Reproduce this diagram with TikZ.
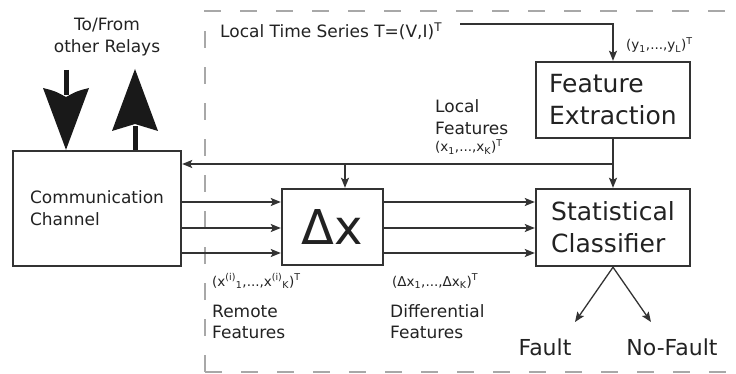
\documentclass[tikz,border=0pt]{standalone}
\usepackage{fontspec}
\setmainfont{DejaVu Sans}
\usetikzlibrary{arrows.meta}
\definecolor{ink}{HTML}{333333}
\definecolor{txt}{HTML}{222222}
\definecolor{dashgray}{HTML}{A8A8A8}
\begin{document}
\begin{tikzpicture}[x=1pt,y=-1pt,
  box/.style={draw=ink, line width=2.4pt, fill=white, inner sep=0pt, align=left, text=txt},
  arr/.style={draw=ink, line width=1.3pt, -{Stealth[length=10pt,width=8pt,inset=2pt]}},
  lbl/.style={inner sep=0pt, text=txt, font=\fontsize{17}{22}\selectfont},
  big/.style={inner sep=0pt, text=txt, font=\fontsize{22}{26}\selectfont},
  sml/.style={inner sep=0pt, text=txt, font=\fontsize{13.5}{16}\selectfont},
  fat/.style={draw=black!90, line width=5pt}
]
\path[use as bounding box] (0,0) rectangle (736,374);
% dashed region
\draw[dashgray, line width=2.5pt, dash pattern=on 17pt off 19pt] (205,372) -- (205,11) -- (736,11);
\draw[dashgray, line width=2.5pt, dash pattern=on 17pt off 19pt] (205,372) -- (736,372);

% boxes
\node[box, minimum width=168pt, minimum height=115pt, font=\fontsize{17}{22}\selectfont] (comm) at (97,208.5) {Communication\\Channel};
\node[box, minimum width=101pt, minimum height=76pt, font=\fontsize{48}{50}\selectfont] (dx) at (332.5,227) {Δx};
\node[box, minimum width=154pt, minimum height=76pt, font=\fontsize{25}{32}\selectfont] (fe) at (613,100) {Feature\\Extraction};
\node[box, minimum width=154pt, minimum height=77pt, font=\fontsize{25}{32}\selectfont] (sc) at (613,227.5) {Statistical\\Classifier};

% connectors
\coordinate (lts) at (460,24);
\draw[arr] (lts) -| (fe.north);
\draw[arr] (fe.south) -- (sc.north);
\coordinate (jr) at (613,164);
\coordinate (jb) at (345,164);
\draw[arr] (jr) -- (jr -| comm.east);
\draw[arr] (jb) -- (jb |- dx.north);
\foreach \y in {202,228,253} {
  \draw[arr] (comm.east |- 0,\y) -- (dx.west |- 0,\y);
  \draw[arr] (dx.east |- 0,\y) -- (sc.west |- 0,\y);
}
\coordinate (fa) at (575,322);
\coordinate (nf) at (651,322);
\draw[arr] (sc.south) -- (fa);
\draw[arr] (sc.south) -- (nf);

% big arrows to/from other relays
\coordinate (dtip) at (66,0 |- comm.north);
\coordinate (ubase) at (135,0 |- comm.north);
\draw[fat] (66,70) -- (66,95);
\fill[black!90] (dtip) -- (43,88) .. controls (55,91) .. (66,97) .. controls (77,91) .. (89,88) -- cycle;
\draw[fat] (ubase) -- (135,126);
\fill[black!90] (135,69) -- (158,131) .. controls (147,128) .. (135,124) .. controls (123,128) .. (112,131) -- cycle;

% labels
\node[lbl, anchor=base] (tf1) at (107,31) {To/From};
\node[lbl, anchor=base] (tf2) at (107,53) {other Relays};
\node[lbl, anchor=base west] (lts-t) at (220,38) {Local Time Series T=(V,I)\textsuperscript{T}};
\node[sml, anchor=base west] (yl) at (626,50) {(y\textsubscript{1},...,y\textsubscript{L})\textsuperscript{T}};
\node[lbl, anchor=base west] (lf1) at (435,113) {Local};
\node[lbl, anchor=base west] (lf2) at (435,135) {Features};
\node[sml, anchor=base west] (lf3) at (435,152) {(x\textsubscript{1},...,x\textsubscript{K})\textsuperscript{T}};
\node[sml, anchor=base west] (rf0) at (212,286) {(x\textsuperscript{(i)}\textsubscript{1},...,x\textsuperscript{(i)}\textsubscript{K})\textsuperscript{T}};
\node[lbl, anchor=base west] (rf1) at (212,317) {Remote};
\node[lbl, anchor=base west] (rf2) at (212,338) {Features};
\node[sml, anchor=base west] (df0) at (392,286) {(Δx\textsubscript{1},...,Δx\textsubscript{K})\textsuperscript{T}};
\node[lbl, anchor=base west] (df1) at (390,317) {Differential};
\node[lbl, anchor=base west] (df2) at (390,338) {Features};
\node[big, anchor=base] (fault) at (545,355) {Fault};
\node[big, anchor=base] (nofault) at (672,355) {No-Fault};
\end{tikzpicture}
\end{document}
